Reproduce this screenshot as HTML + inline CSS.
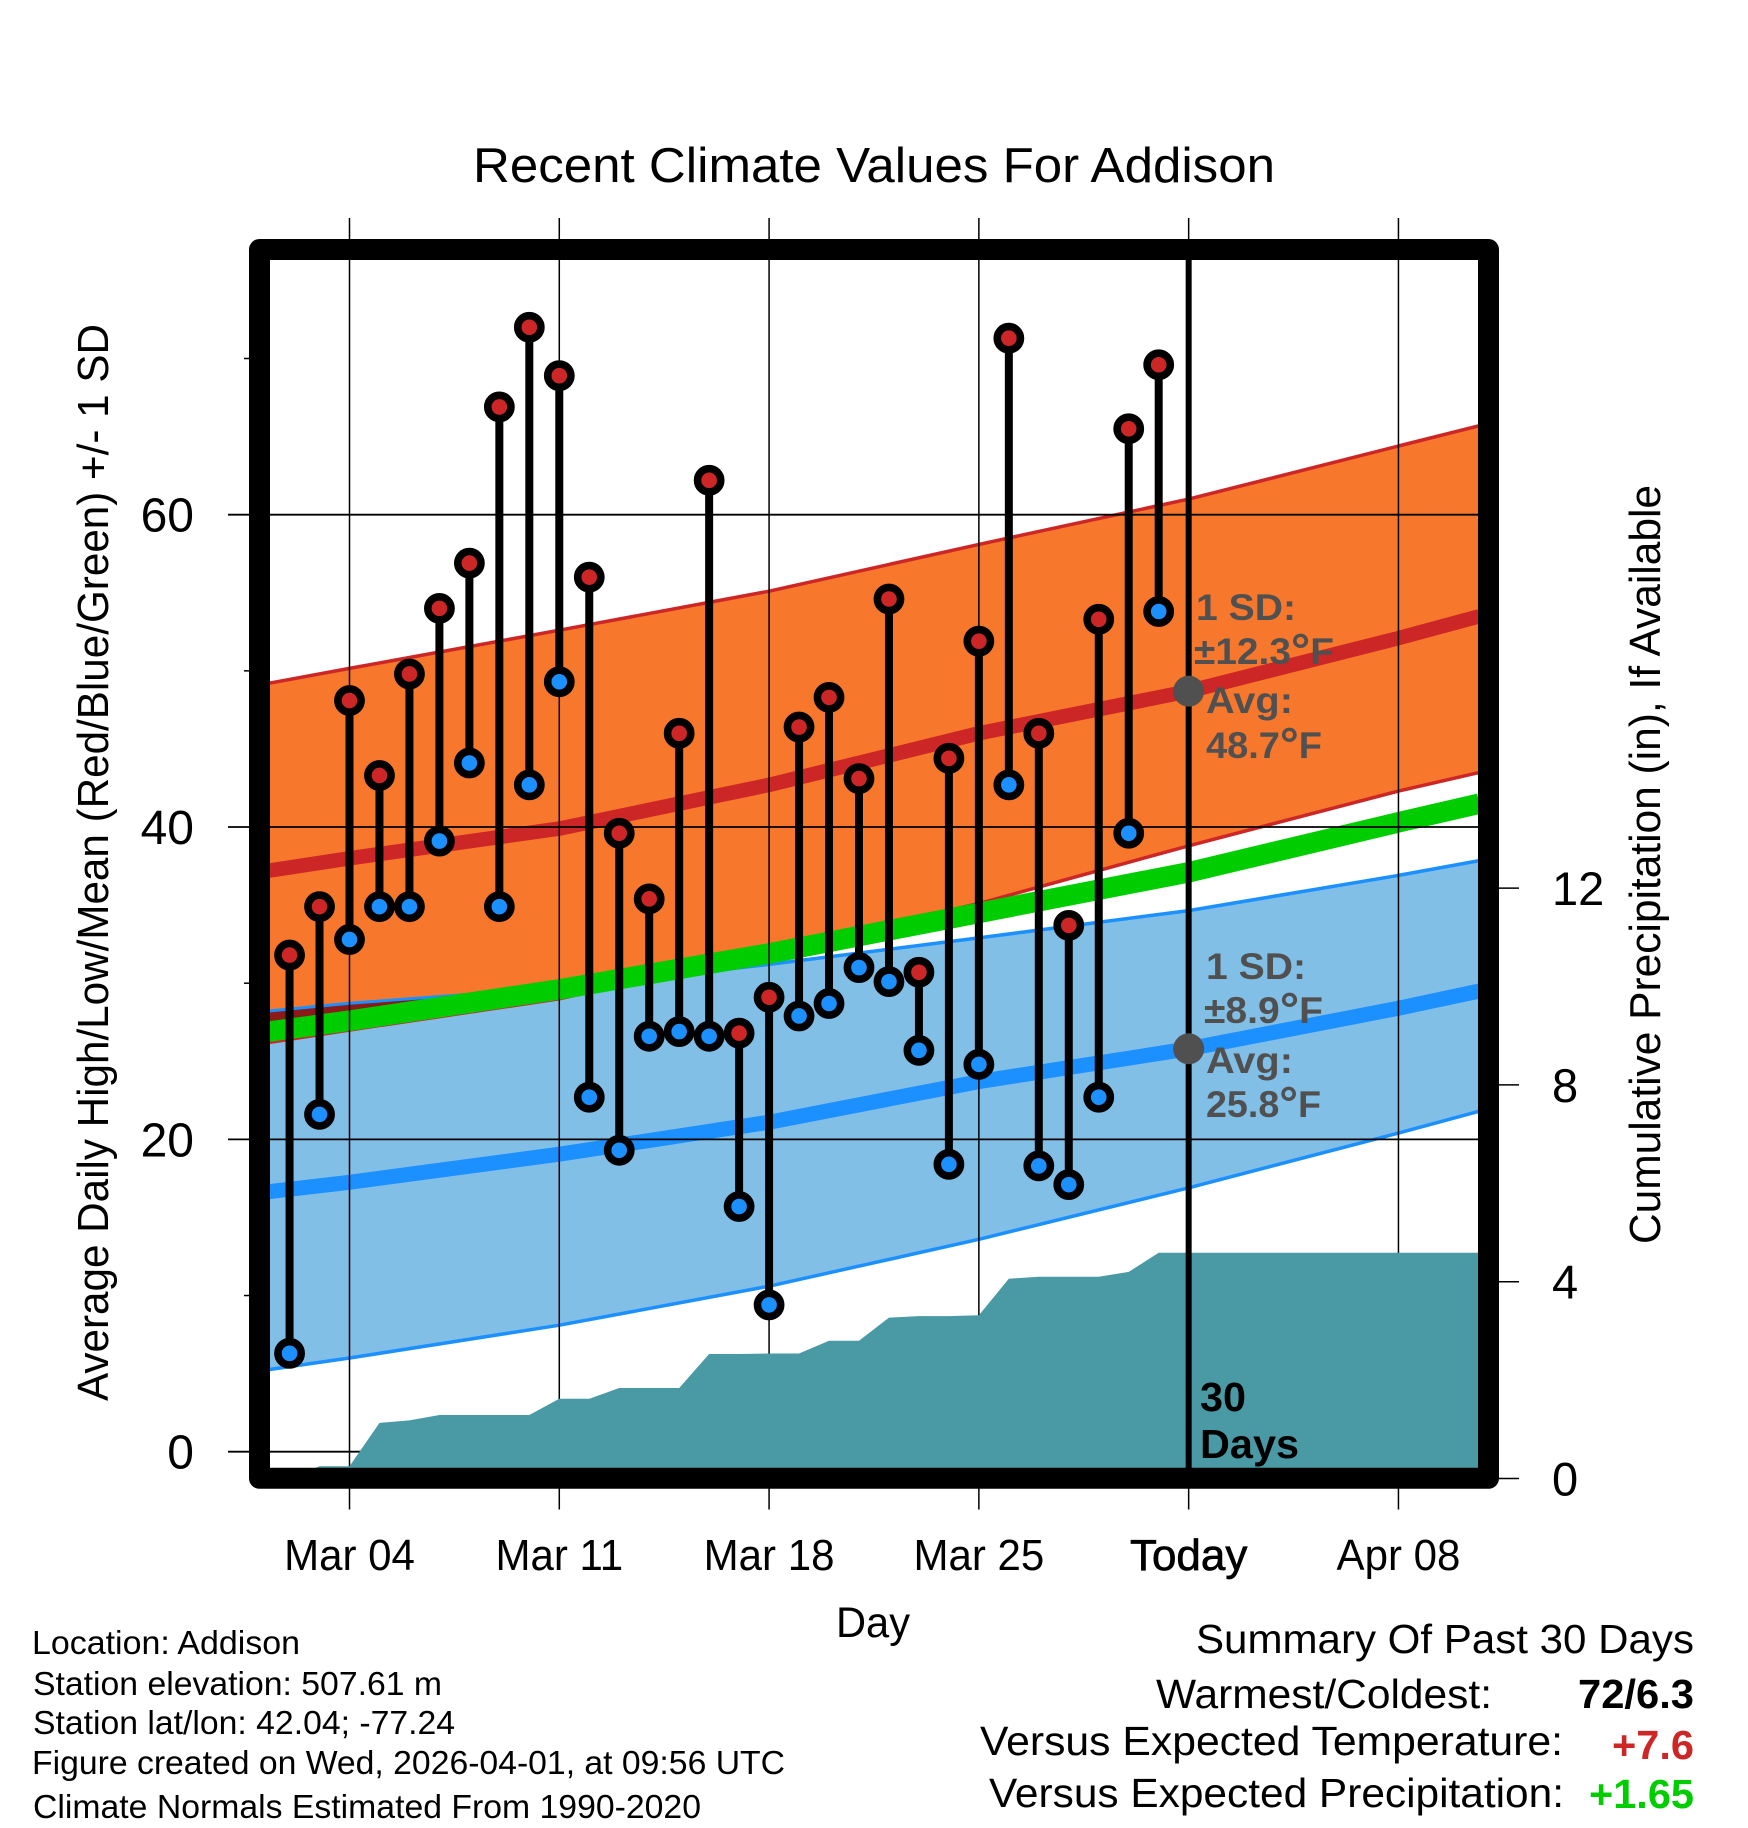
<!DOCTYPE html>
<html lang="en">
<head>
<meta charset="utf-8">
<title>Recent Climate Values For Addison</title>
<style>
html,body{margin:0;padding:0;background:#fff;}
svg{display:block;font-family:"Liberation Sans",sans-serif;}
</style>
</head>
<body>
<svg id="chart" xmlns="http://www.w3.org/2000/svg" width="1748" height="1828" viewBox="0 0 1748 1828">
  <rect width="1748" height="1828" fill="#ffffff"/>
  <g id="plot"></g>

  <text x="473" y="182" font-size="49" textLength="802" lengthAdjust="spacingAndGlyphs">Recent Climate Values For Addison</text>
  <text transform="translate(108,1401) rotate(-90)" font-size="44" textLength="1077" lengthAdjust="spacingAndGlyphs">Average Daily High/Low/Mean (Red/Blue/Green) +/- 1 SD</text>
  <text transform="translate(1660,1244) rotate(-90)" font-size="44" textLength="759" lengthAdjust="spacingAndGlyphs">Cumulative Precipitation (in), If Available</text>
  <text x="836" y="1637" font-size="43" textLength="74" lengthAdjust="spacingAndGlyphs">Day</text>

  <g font-weight="bold" font-size="37" fill="#505050">
    <text x="1196" y="620" textLength="100" lengthAdjust="spacingAndGlyphs">1 SD:</text>
    <text x="1194" y="664" textLength="140" lengthAdjust="spacingAndGlyphs">±12.3<tspan font-size="46" dy="2">°</tspan><tspan dy="-2">F</tspan></text>
    <text x="1206" y="713" textLength="87" lengthAdjust="spacingAndGlyphs">Avg:</text>
    <text x="1206" y="758" textLength="116" lengthAdjust="spacingAndGlyphs">48.7<tspan font-size="46" dy="2">°</tspan><tspan dy="-2">F</tspan></text>
  </g>
  <g font-weight="bold" font-size="37" fill="#505050">
    <text x="1206" y="979" textLength="100" lengthAdjust="spacingAndGlyphs">1 SD:</text>
    <text x="1204" y="1023" textLength="119" lengthAdjust="spacingAndGlyphs">±8.9<tspan font-size="46" dy="2">°</tspan><tspan dy="-2">F</tspan></text>
    <text x="1206" y="1073" textLength="87" lengthAdjust="spacingAndGlyphs">Avg:</text>
    <text x="1206" y="1117" textLength="115" lengthAdjust="spacingAndGlyphs">25.8<tspan font-size="46" dy="2">°</tspan><tspan dy="-2">F</tspan></text>
  </g>

  <text x="1200" y="1411" font-size="41" font-weight="bold" textLength="46" lengthAdjust="spacingAndGlyphs">30</text>
  <text x="1200" y="1458" font-size="41" font-weight="bold" textLength="99" lengthAdjust="spacingAndGlyphs">Days</text>

  <g font-size="33">
    <text x="32" y="1654" textLength="268" lengthAdjust="spacingAndGlyphs">Location: Addison</text>
    <text x="33" y="1695" textLength="409" lengthAdjust="spacingAndGlyphs">Station elevation: 507.61 m</text>
    <text x="33" y="1734" textLength="422" lengthAdjust="spacingAndGlyphs">Station lat/lon: 42.04; -77.24</text>
    <text x="32" y="1774" textLength="753" lengthAdjust="spacingAndGlyphs">Figure created on Wed, 2026-04-01, at 09:56 UTC</text>
    <text x="33" y="1818" textLength="668" lengthAdjust="spacingAndGlyphs">Climate Normals Estimated From 1990-2020</text>
  </g>

  <g font-size="41">
    <text x="1196" y="1653" textLength="498" lengthAdjust="spacingAndGlyphs">Summary Of Past 30 Days</text>
    <text x="1156" y="1708" textLength="336" lengthAdjust="spacingAndGlyphs">Warmest/Coldest:</text>
    <text x="1578" y="1708" font-weight="bold" textLength="116" lengthAdjust="spacingAndGlyphs">72/6.3</text>
    <text x="980" y="1755" textLength="583" lengthAdjust="spacingAndGlyphs">Versus Expected Temperature:</text>
    <text x="1612" y="1759" font-weight="bold" fill="#cd2626" textLength="82" lengthAdjust="spacingAndGlyphs">+7.6</text>
    <text x="989" y="1807" textLength="575" lengthAdjust="spacingAndGlyphs">Versus Expected Precipitation:</text>
    <text x="1589" y="1808" font-weight="bold" fill="#00cd00" textLength="105" lengthAdjust="spacingAndGlyphs">+1.65</text>
  </g>
</svg>

<script>
// Observed daily values, Mar 2 through Mar 31
const firstObservedDay = 2;
const dailyHigh = [31.8,34.9,48.1,43.3,49.8,54.0,56.9,66.9,72.0,68.9,56.0,39.6,35.4,46.0,62.2,26.8,29.1,46.4,48.3,43.1,54.6,30.7,44.4,51.9,71.3,46.0,33.7,53.3,65.5,69.6];
const dailyLow = [6.3,21.6,32.8,34.9,34.9,39.1,44.1,34.9,42.7,49.3,22.7,19.3,26.6,26.9,26.6,15.7,9.4,27.9,28.7,31.0,30.1,25.7,18.4,24.8,42.7,18.3,17.1,22.7,39.6,53.8];
const cumulativePrecip = [0,0.25,0.25,1.13,1.18,1.29,1.29,1.29,1.29,1.62,1.62,1.84,1.84,1.84,2.53,2.53,2.54,2.54,2.80,2.80,3.27,3.30,3.30,3.32,4.06,4.10,4.10,4.10,4.20,4.59];
const precipFuture = 4.59;

// Climate normals, by day number counted from Mar 1 (Mar 32 = Apr 1)
const normalDays = [1.3,4,11,18,25,32,39,41.7];
const highMean = [37.2,38.0,39.9,42.7,46.0,48.7,52.1,53.5];
const highUpper = [49.2,50.16,52.6,55.1,58.1,61.0,64.4,65.7];
const highLower = [26.2,27.0,29.0,32.0,35.1,38.8,42.3,43.5];
const lowMean = [16.65,17.25,19.05,21.1,23.7,25.8,28.4,29.5];
const lowUpper = [28.2,28.7,29.7,31.2,32.9,34.65,36.9,37.85];
const lowLower = [5.26,6.0,8.1,10.6,13.6,16.9,20.4,21.8];
const dayMean = [26.9,27.6,29.6,31.9,34.5,37.1,40.3,41.5];

// Axes
const xTickDays = [4,11,18,25,32,39];
const xTickLabels = ["Mar 04","Mar 11","Mar 18","Mar 25","Today","Apr 08"];
const todayDay = 32;
const yTicks = [0,20,40,60];
const yMinorTicks = [10,30,50,70];
const precipTicks = [0,4,8,12];

const SVGNS = "http://www.w3.org/2000/svg";
const svg = document.getElementById("chart");
const plot = document.getElementById("plot");

function xDay(d){ return 349.5 + 29.97 * (d - 4); }
function yTemp(t){ return 1451.7 - 15.617 * t; }
function yPrecip(p){ return 1478.5 - 49.2 * p; }

const INNER_RIGHT = 1478, INNER_TOP = 260, INNER_BOTTOM = 1468;

function make(tag, attrs, parent){
  const el = document.createElementNS(SVGNS, tag);
  for (const k in attrs) el.setAttribute(k, attrs[k]);
  (parent || plot).appendChild(el);
  return el;
}
function linePoints(values){
  return values.map((v,i) => xDay(normalDays[i]).toFixed(1) + "," + yTemp(v).toFixed(1));
}
function bandPoints(upper, lower){
  return linePoints(upper).concat(linePoints(lower).reverse()).join(" ");
}

// Bands
const highBand = make("polygon",{points:bandPoints(highUpper,highLower),fill:"#f7782c"});



const highUpperLine = make("polyline",{points:linePoints(highUpper).join(" "),fill:"none",stroke:"#cd2626","stroke-width":3.5,"stroke-linejoin":"round"});



const lowBand = make("polygon",{points:bandPoints(lowUpper,lowLower),fill:"#82bfe6"});



const lowUpperLine = make("polyline",{points:linePoints(lowUpper).join(" "),fill:"none",stroke:"#1c90ff","stroke-width":3.5,"stroke-linejoin":"round"});



const lowLowerLine = make("polyline",{points:linePoints(lowLower).join(" "),fill:"none",stroke:"#1c90ff","stroke-width":3.5,"stroke-linejoin":"round"});



// Overlap sliver where the high and low bands cross at the left edge
const overlapUpper = linePoints(lowUpper).slice(0,3);
const overlapLower = linePoints(dayMean).slice(0,3).reverse();
const overlap = make("polygon",{points:overlapUpper.concat(overlapLower).join(" "),fill:"#8b1a1a"});



const overlapEdge = make("polyline",{points:overlapUpper.join(" "),fill:"none",stroke:"#1c90ff","stroke-width":2.5});



const highLowerLine = make("polyline",{points:linePoints(highLower).join(" "),fill:"none",stroke:"#cd2626","stroke-width":3.5,"stroke-linejoin":"round"});



const highMeanLine = make("polyline",{points:linePoints(highMean).join(" "),fill:"none",stroke:"#cd2626","stroke-width":14.5,"stroke-linejoin":"round"});



const lowMeanLine = make("polyline",{points:linePoints(lowMean).join(" "),fill:"none",stroke:"#1c90ff","stroke-width":15,"stroke-linejoin":"round"});



const dayMeanLine = make("polyline",{points:linePoints(dayMean).join(" "),fill:"none",stroke:"#00cd00","stroke-width":20.5,"stroke-linejoin":"round"});



// Grid lines
xTickDays.forEach(function(d){
  const gl = make("line",{x1:xDay(d),x2:xDay(d),y1:218,y2:1509.5,stroke:"#000","stroke-width":1.5});
  
  
});
yTicks.forEach(function(t){
  const gl = make("line",{x1:228,x2:INNER_RIGHT,y1:yTemp(t),y2:yTemp(t),stroke:"#000","stroke-width":1.8});
  
  
});
yMinorTicks.forEach(function(t){
  const mt = make("line",{x1:244,x2:250,y1:yTemp(t),y2:yTemp(t),stroke:"#000","stroke-width":1.5});
  
  
});

// Cumulative precipitation area
const precipPts = cumulativePrecip.map((p,i) => xDay(firstObservedDay + i).toFixed(1) + "," + yPrecip(p).toFixed(1));
precipPts.push(INNER_RIGHT + "," + yPrecip(precipFuture).toFixed(1));
precipPts.push(INNER_RIGHT + "," + INNER_BOTTOM);
precipPts.push(xDay(firstObservedDay).toFixed(1) + "," + INNER_BOTTOM);
const precipArea = make("polygon",{points:precipPts.join(" "),fill:"#4a9aa5"});



// Today marker
const todayLine = make("line",{x1:xDay(todayDay),x2:xDay(todayDay),y1:INNER_TOP,y2:INNER_BOTTOM,stroke:"#000","stroke-width":6});



const todayIdx = normalDays.indexOf(todayDay);
const highAvgDot = make("circle",{cx:xDay(todayDay),cy:yTemp(highMean[todayIdx]),r:15.5,fill:"#505050"});



const lowAvgDot = make("circle",{cx:xDay(todayDay),cy:yTemp(lowMean[todayIdx]),r:15.5,fill:"#505050"});



// Daily high/low stems and points
dailyHigh.forEach(function(hi,i){
  const lo = dailyLow[i];
  const x = xDay(firstObservedDay + i);
  const stem = make("line",{x1:x,x2:x,y1:yTemp(hi),y2:yTemp(lo),stroke:"#000","stroke-width":8});
  
  
});
dailyHigh.forEach(function(hi,i){
  const lo = dailyLow[i];
  const x = xDay(firstObservedDay + i);
  const hiDot = make("circle",{cx:x,cy:yTemp(hi),r:11.6,fill:"#cd2626",stroke:"#000","stroke-width":7.6});
  
  
  const loDot = make("circle",{cx:x,cy:yTemp(lo),r:11.6,fill:"#1c90ff",stroke:"#000","stroke-width":7.6});
  
  
});

// Frame
const frame = make("rect",{x:259.5,y:249.5,width:1229,height:1228.8,fill:"none",stroke:"#000","stroke-width":21,"stroke-linejoin":"round"});



// Right precipitation axis ticks
precipTicks.forEach(function(p){
  const tk = make("line",{x1:1499,x2:1519,y1:yPrecip(p),y2:yPrecip(p),stroke:"#000","stroke-width":1.5});
  
  
  const lb = make("text",{x:1552,y:yPrecip(p)+17,"font-size":47});
  lb.textContent = String(p);
  
  
});

// Left temperature axis labels
yTicks.forEach(function(t){
  const lb = make("text",{x:194,y:yTemp(t)+17,"font-size":48,"text-anchor":"end"});
  lb.textContent = String(t);
  
  
});

// X axis labels
xTickLabels.forEach(function(label,i){
  const isToday = xTickDays[i] === todayDay;
  const lb = make("text",{x:xDay(xTickDays[i]),y:1570,"font-size":44,"text-anchor":"middle"});
  lb.textContent = label;
  
  
  if (isToday) {
    lb.setAttribute('stroke', '#000');
    lb.setAttribute('stroke-width', '0.7');
  }
  const natural = lb.getComputedTextLength();
  lb.setAttribute('textLength', (natural * (isToday ? 1.0 : 0.955)).toFixed(1));
  lb.setAttribute('lengthAdjust', 'spacingAndGlyphs');
});
</script>
</body>
</html>
